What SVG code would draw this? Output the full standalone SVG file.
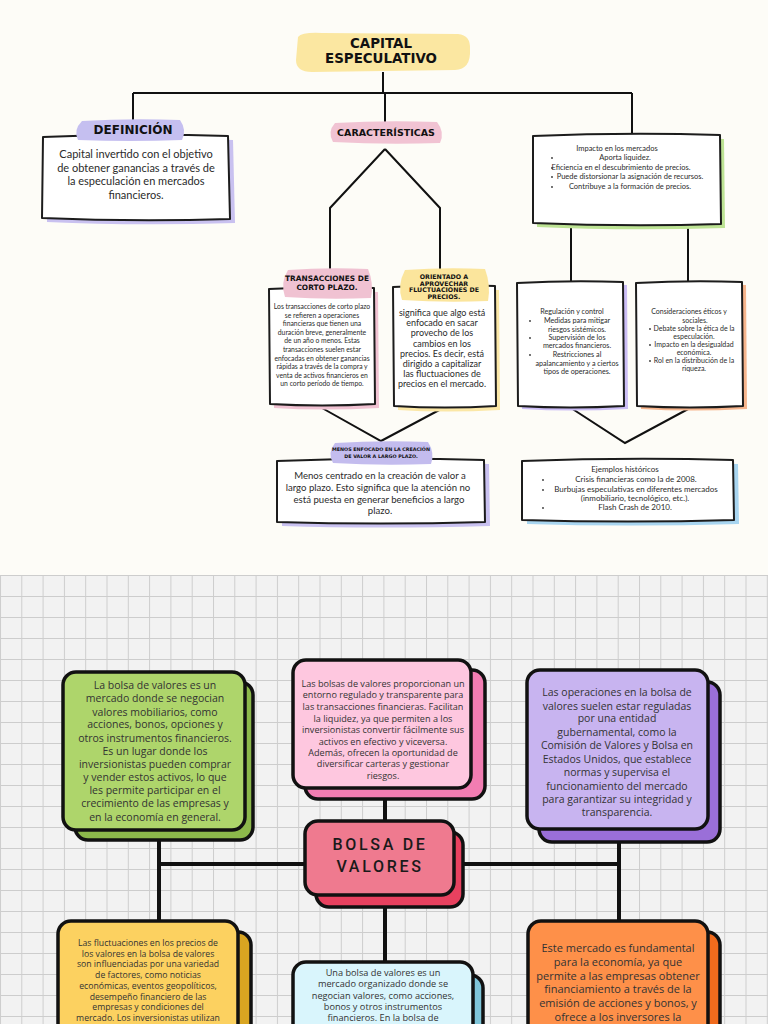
<svg xmlns="http://www.w3.org/2000/svg" width="768" height="1024" viewBox="0 0 768 1024">
<defs>
<style>
.t{font-family:Lato,"Liberation Sans",sans-serif;fill:#2b2b2b;text-anchor:middle}
.h{font-family:"DejaVu Sans","Liberation Sans",sans-serif;font-weight:bold;fill:#111;text-anchor:middle}
.b{font-family:"Open Sans","Liberation Sans",sans-serif;fill:#333;text-anchor:middle}
.sk{fill:#fff;stroke:#1c1c1c;stroke-width:2;stroke-linejoin:round}
.cn{stroke:#111;stroke-width:2;fill:none}
.cb{stroke:#111;stroke-width:4;fill:none}
.rb{stroke:#111;stroke-width:3.5}
.dot{fill:#333}
</style>
<pattern id="grid" x="0" y="575" width="21.3" height="21" patternUnits="userSpaceOnUse">
<path d="M0,0.5 H21.3 M0.5,0 V21" stroke="#cdcdcd" stroke-width="1" fill="none"/>
</pattern>
</defs>
<rect x="0" y="0" width="768" height="575" fill="#fdfcf7"/>
<rect x="0" y="575" width="768" height="449" fill="#f2f2f2"/>
<rect x="0" y="575" width="768" height="449" fill="url(#grid)"/>

<g id="connectors">
<path class="cn" d="M383,72 V93 M133,93 H632 M133,93 V121 M385,93 V123 M632,93 V137"/>
<path class="cn" d="M385,149 L330,208 V270 M385,149 L440,208 V269"/>
<path class="cn" d="M571,224 V284 M688,224 V284"/>
<path class="cn" d="M322,408 L381,441 L443,408"/>
<path class="cn" d="M571,408 L625,443 L690,408"/>
<path class="cb" d="M385,787 V822 M159,838 V921 M619,842 V921 M385,905 V962 M159,864 H306 M454,864 H619"/>
</g>

<g id="title">
<path d="M298,37 Q302,32 322,33 L458,34 Q471,35 470,50 Q471,69 455,70 L312,72 Q296,72 296,60 Z" fill="#fbe7a1"/>
<text class="h" x="381" y="48" font-size="13.4">CAPITAL</text>
<text class="h" x="381" y="63" font-size="13.4">ESPECULATIVO</text>
</g>

<g id="definicion">
<path d="M47,141 Q135,137 233,140 L235,223 Q135,226 47,222 Z" fill="#c9c1f0"/>
<path class="sk" d="M43,137 Q135,133 228,136 L230,219 Q135,222 42,218 Z"/>
<path d="M82,121 Q130,118 180,120 Q187,130 182,140 Q130,142 78,140 Q73,130 82,121 Z" fill="#c5bff0"/>
<text class="h" x="133" y="134" font-size="12">DEFINICIÓN</text>
<text class="t" x="136" y="158" font-size="11">Capital invertido con el objetivo</text>
<text class="t" x="136" y="172" font-size="11">de obtener ganancias a través de</text>
<text class="t" x="136" y="185" font-size="11">la especulación en mercados</text>
<text class="t" x="136" y="199" font-size="11">financieros.</text>
</g>

<g id="caracteristicas">
<path d="M335,123 Q385,120 437,122 Q445,132 440,143 Q385,145 333,142 Q327,132 335,123 Z" fill="#f1c3d3"/>
<text class="h" x="386" y="135.5" font-size="9.5">CARACTERÍSTICAS</text>
</g>

<g id="impacto">
<path d="M537,140 Q627,136 724,139 L725,228 Q627,231 537,227 Z" fill="#bde394"/>
<path class="sk" d="M533,136 Q627,132 720,135 L721,224 Q627,227 533,223 Z"/>
<text class="t" x="617" y="151" font-size="7.5">Impacto en los mercados</text>
<circle class="dot" cx="552" cy="158" r="0.9"/>
<text class="t" x="625" y="160" font-size="7.5">Aporta liquidez.</text>
<circle class="dot" cx="552" cy="168" r="0.9"/>
<text class="t" x="621" y="170" font-size="7.5">Eficiencia en el descubrimiento de precios.</text>
<circle class="dot" cx="552" cy="177" r="0.9"/>
<text class="t" x="630" y="179" font-size="7.5">Puede distorsionar la asignación de recursos.</text>
<circle class="dot" cx="552" cy="187" r="0.9"/>
<text class="t" x="630" y="189" font-size="7.5">Contribuye a la formación de precios.</text>
</g>

<g id="transacciones">
<path d="M273,293 Q322,290 378,292 L379,408 Q322,411 274,408 Z" fill="#f0c2d2"/>
<path class="sk" d="M269,289 Q322,286 374,288 L375,404 Q322,407 270,404 Z"/>
<path d="M288,270 Q327,267 368,269 Q374,283 371,298 Q327,300 285,297 Q280,283 288,270 Z" fill="#f0c2d2"/>
<text class="h" x="327" y="281" font-size="7.4">TRANSACCIONES DE</text>
<text class="h" x="327" y="289.5" font-size="7.4">CORTO PLAZO.</text>
<text class="t" x="322" y="309" font-size="6.8">Los transacciones de corto plazo</text>
<text class="t" x="322" y="317.6" font-size="6.8">se refieren a operaciones</text>
<text class="t" x="322" y="326.2" font-size="6.8">financieras que tienen una</text>
<text class="t" x="322" y="334.8" font-size="6.8">duración breve, generalmente</text>
<text class="t" x="322" y="343.4" font-size="6.8">de un año o menos. Estas</text>
<text class="t" x="322" y="352" font-size="6.8">transacciones suelen estar</text>
<text class="t" x="322" y="360.6" font-size="6.8">enfocadas en obtener ganancias</text>
<text class="t" x="322" y="369.2" font-size="6.8">rápidas a través de la compra y</text>
<text class="t" x="322" y="377.8" font-size="6.8">venta de activos financieros en</text>
<text class="t" x="322" y="386.4" font-size="6.8">un corto período de tiempo.</text>
</g>

<g id="orientado">
<path d="M397,291 Q445,288 499,290 L500,410 Q445,413 398,410 Z" fill="#fbe7a6"/>
<path class="sk" d="M393,287 Q445,284 495,286 L496,406 Q445,409 394,406 Z"/>
<path d="M405,270 Q445,267 485,269 Q491,285 488,301 Q445,303 402,300 Q397,285 405,270 Z" fill="#fbe59c"/>
<text class="h" x="444" y="279" font-size="6.3">ORIENTADO A</text>
<text class="h" x="444" y="285.5" font-size="6.3">APROVECHAR</text>
<text class="h" x="444" y="292" font-size="6.3">FLUCTUACIONES DE</text>
<text class="h" x="444" y="298.5" font-size="6.3">PRECIOS.</text>
<text class="t" x="442" y="316" font-size="9">significa que algo está</text>
<text class="t" x="442" y="326.2" font-size="9">enfocado en sacar</text>
<text class="t" x="442" y="336.4" font-size="9">provecho de los</text>
<text class="t" x="442" y="346.6" font-size="9">cambios en los</text>
<text class="t" x="442" y="356.8" font-size="9">precios. Es decir, está</text>
<text class="t" x="442" y="367" font-size="9">dirigido a capitalizar</text>
<text class="t" x="442" y="377.2" font-size="9">las fluctuaciones de</text>
<text class="t" x="442" y="387.4" font-size="9">precios en el mercado.</text>
</g>

<g id="regulacion">
<path d="M521,286 Q570,283 627,285 L628,409 Q570,412 522,409 Z" fill="#cbbdf5"/>
<path class="sk" d="M517,283 Q570,280 623,282 L624,406 Q570,409 518,406 Z"/>
<text class="t" x="572" y="314" font-size="7.2">Regulación y control</text>
<circle class="dot" cx="530" cy="321" r="0.9"/>
<text class="t" x="577" y="323" font-size="7.2">Medidas para mitigar</text>
<text class="t" x="577" y="332" font-size="7.2">riesgos sistémicos.</text>
<circle class="dot" cx="530" cy="338" r="0.9"/>
<text class="t" x="577" y="340" font-size="7.2">Supervisión de los</text>
<text class="t" x="577" y="348" font-size="7.2">mercados financieros.</text>
<circle class="dot" cx="530" cy="355" r="0.9"/>
<text class="t" x="577" y="357" font-size="7.2">Restricciones al</text>
<text class="t" x="577" y="366" font-size="7.2">apalancamiento y a ciertos</text>
<text class="t" x="577" y="374" font-size="7.2">tipos de operaciones.</text>
</g>

<g id="consideraciones">
<path d="M640,286 Q690,283 746,285 L747,409 Q690,412 641,409 Z" fill="#f6b58d"/>
<path class="sk" d="M636,283 Q690,280 742,282 L743,406 Q690,409 637,406 Z"/>
<text class="t" x="689" y="314" font-size="7">Consideraciones éticos y</text>
<text class="t" x="695" y="323" font-size="7">sociales.</text>
<circle class="dot" cx="650" cy="329" r="0.9"/>
<text class="t" x="694" y="331" font-size="7">Debate sobre la ética de la</text>
<text class="t" x="694" y="339" font-size="7">especulación.</text>
<circle class="dot" cx="650" cy="345" r="0.9"/>
<text class="t" x="694" y="347" font-size="7">Impacto en la desigualdad</text>
<text class="t" x="694" y="355" font-size="7">económica.</text>
<circle class="dot" cx="650" cy="361" r="0.9"/>
<text class="t" x="694" y="363" font-size="7">Rol en la distribución de la</text>
<text class="t" x="694" y="371" font-size="7">riqueza.</text>
</g>

<g id="menos">
<path d="M282,465 Q380,461 489,464 L490,526 Q380,529 282,526 Z" fill="#c9c1f0"/>
<path class="sk" d="M277,461 Q380,457 484,460 L485,522 Q380,525 277,522 Z"/>
<path d="M335,443 Q381,440 428,442 Q435,453 431,464 Q381,466 333,463 Q327,453 335,443 Z" fill="#c3bcee"/>
<text class="h" x="381" y="450.5" font-size="4.8">MENOS ENFOCADO EN LA CREACIÓN</text>
<text class="h" x="381" y="457.5" font-size="4.8">DE VALOR A LARGO PLAZO.</text>
<text class="t" x="380" y="479" font-size="9.6">Menos centrado en la creación de valor a</text>
<text class="t" x="378" y="491" font-size="9.6">largo plazo. Esto significa que la atención no</text>
<text class="t" x="379" y="503" font-size="9.6">está puesta en generar beneficios a largo</text>
<text class="t" x="380" y="514" font-size="9.6">plazo.</text>
</g>

<g id="ejemplos">
<path d="M527,465 Q628,461 738,464 L739,524 Q628,527 527,524 Z" fill="#a8d5f0"/>
<path class="sk" d="M522,461 Q628,457 733,460 L734,520 Q628,523 522,520 Z"/>
<text class="t" x="625" y="472" font-size="8">Ejemplos históricos</text>
<circle class="dot" cx="543" cy="480" r="0.9"/>
<text class="t" x="636" y="482" font-size="8">Crisis financieras como la de 2008.</text>
<circle class="dot" cx="543" cy="490" r="0.9"/>
<text class="t" x="636" y="492" font-size="8">Burbujas especulativas en diferentes mercados</text>
<text class="t" x="635" y="501" font-size="8">(inmobiliario, tecnológico, etc.).</text>
<circle class="dot" cx="543" cy="508" r="0.9"/>
<text class="t" x="635" y="510" font-size="8">Flash Crash de 2010.</text>
</g>

<g id="verde">
<rect class="rb" x="75" y="682" width="178" height="158" rx="13" fill="#8cb84b"/>
<rect class="rb" x="63" y="672" width="182" height="158" rx="13" fill="#aed56b"/>
<text class="b" x="155" y="689" font-size="10.5">La bolsa de valores es un</text>
<text class="b" x="155" y="702" font-size="10.5">mercado donde se negocian</text>
<text class="b" x="155" y="716" font-size="10.5">valores mobiliarios, como</text>
<text class="b" x="155" y="728" font-size="10.5">acciones, bonos, opciones y</text>
<text class="b" x="155" y="742" font-size="10.5">otros instrumentos financieros.</text>
<text class="b" x="155" y="755" font-size="10.5">Es un lugar donde los</text>
<text class="b" x="155" y="768" font-size="10.5">inversionistas pueden comprar</text>
<text class="b" x="155" y="781" font-size="10.5">y vender estos activos, lo que</text>
<text class="b" x="155" y="794" font-size="10.5">les permite participar en el</text>
<text class="b" x="155" y="807" font-size="10.5">crecimiento de las empresas y</text>
<text class="b" x="155" y="821" font-size="10.5">en la economía en general.</text>
</g>

<g id="rosa">
<rect class="rb" x="305" y="670" width="180" height="129" rx="13" fill="#f27db2"/>
<rect class="rb" x="293" y="660" width="178" height="128" rx="13" fill="#fec7df"/>
<text class="b" x="383" y="686.5" font-size="9.1">Las bolsas de valores proporcionan un</text>
<text class="b" x="383" y="697.5" font-size="9.1">entorno regulado y transparente para</text>
<text class="b" x="383" y="709.5" font-size="9.1">las transacciones financieras. Facilitan</text>
<text class="b" x="383" y="721.5" font-size="9.1">la liquidez, ya que permiten a los</text>
<text class="b" x="383" y="732.5" font-size="9.1">inversionistas convertir fácilmente sus</text>
<text class="b" x="383" y="744.5" font-size="9.1">activos en efectivo y viceversa.</text>
<text class="b" x="383" y="755.5" font-size="9.1">Además, ofrecen la oportunidad de</text>
<text class="b" x="383" y="766.5" font-size="9.1">diversificar carteras y gestionar</text>
<text class="b" x="383" y="778.5" font-size="9.1">riesgos.</text>
</g>

<g id="morado">
<rect class="rb" x="539" y="682" width="181" height="160" rx="13" fill="#9a6fd8"/>
<rect class="rb" x="527" y="670" width="181" height="159" rx="13" fill="#c8b4f0"/>
<text class="b" x="617" y="696" font-size="10.5">Las operaciones en la bolsa de</text>
<text class="b" x="617" y="710" font-size="10.5">valores suelen estar reguladas</text>
<text class="b" x="617" y="722" font-size="10.5">por una entidad</text>
<text class="b" x="617" y="736" font-size="10.5">gubernamental, como la</text>
<text class="b" x="617" y="749" font-size="10.5">Comisión de Valores y Bolsa en</text>
<text class="b" x="617" y="763" font-size="10.5">Estados Unidos, que establece</text>
<text class="b" x="617" y="776" font-size="10.5">normas y supervisa el</text>
<text class="b" x="617" y="790" font-size="10.5">funcionamiento del mercado</text>
<text class="b" x="617" y="803" font-size="10.5">para garantizar su integridad y</text>
<text class="b" x="617" y="816" font-size="10.5">transparencia.</text>
</g>

<g id="bolsa">
<rect class="rb" x="316" y="832" width="147" height="75" rx="13" fill="#e8415f"/>
<rect class="rb" x="305" y="821" width="149" height="74" rx="13" fill="#ef7a8f"/>
<text x="380" y="850" font-family="Roboto,'Liberation Sans',sans-serif" font-weight="500" font-size="16" letter-spacing="2.7" fill="#1a1a1a" text-anchor="middle">BOLSA DE</text>
<text x="380" y="872" font-family="Roboto,'Liberation Sans',sans-serif" font-weight="500" font-size="16" letter-spacing="2.7" fill="#1a1a1a" text-anchor="middle">VALORES</text>
</g>

<g id="amarillo">
<rect class="rb" x="70" y="932" width="181" height="120" rx="13" fill="#d9a521"/>
<rect class="rb" x="58" y="921" width="180" height="120" rx="13" fill="#fcd160"/>
<text class="b" x="148" y="946" font-size="8.7">Las fluctuaciones en los precios de</text>
<text class="b" x="148" y="956.7" font-size="8.7">los valores en la bolsa de valores</text>
<text class="b" x="148" y="967.4" font-size="8.7">son influenciadas por una variedad</text>
<text class="b" x="148" y="978.1" font-size="8.7">de factores, como noticias</text>
<text class="b" x="148" y="988.9" font-size="8.7">económicas, eventos geopolíticos,</text>
<text class="b" x="148" y="999.6" font-size="8.7">desempeño financiero de las</text>
<text class="b" x="148" y="1010.3" font-size="8.7">empresas y condiciones del</text>
<text class="b" x="148" y="1021" font-size="8.7">mercado. Los inversionistas utilizan</text>
</g>

<g id="cian">
<rect class="rb" x="305" y="975" width="178" height="80" rx="13" fill="#7fc5d9"/>
<rect class="rb" x="293" y="962" width="180" height="80" rx="13" fill="#d9f5fc"/>
<text class="b" x="383" y="976" font-size="9.2">Una bolsa de valores es un</text>
<text class="b" x="383" y="987.3" font-size="9.2">mercado organizado donde se</text>
<text class="b" x="383" y="998.5" font-size="9.2">negocian valores, como acciones,</text>
<text class="b" x="383" y="1009.8" font-size="9.2">bonos y otros instrumentos</text>
<text class="b" x="383" y="1021" font-size="9.2">financieros. En la bolsa de</text>
</g>

<g id="naranja">
<rect class="rb" x="540" y="932" width="180" height="120" rx="13" fill="#f06b1d"/>
<rect class="rb" x="528" y="921" width="180" height="120" rx="13" fill="#fe9049"/>
<text class="b" x="618" y="952" font-size="11">Este mercado es fundamental</text>
<text class="b" x="618" y="966" font-size="11">para la economía, ya que</text>
<text class="b" x="618" y="980" font-size="11">permite a las empresas obtener</text>
<text class="b" x="618" y="993" font-size="11">financiamiento a través de la</text>
<text class="b" x="618" y="1007" font-size="11">emisión de acciones y bonos, y</text>
<text class="b" x="618" y="1021" font-size="11">ofrece a los inversores la</text>
</g>
</svg>
